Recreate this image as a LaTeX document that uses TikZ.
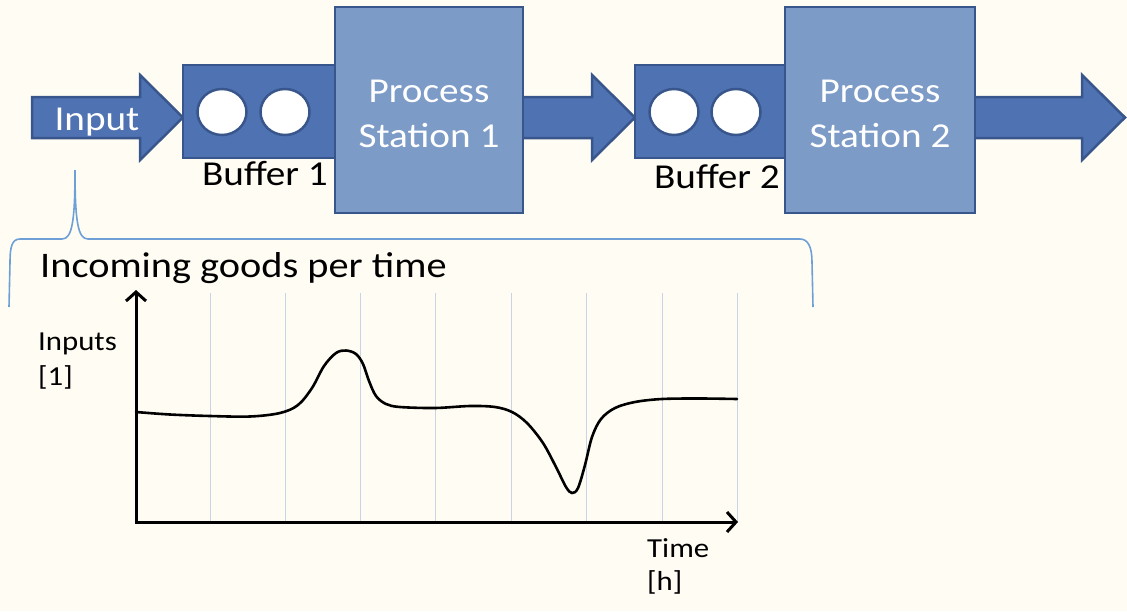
\documentclass[tikz,border=0pt]{standalone}
\usepackage{fontspec}
\setmainfont[FakeStretch=1.12]{Carlito}
\usetikzlibrary{arrows.meta,shapes.geometric,calc}

\definecolor{paper}{RGB}{255,253,243}
\definecolor{bufblue}{RGB}{79,114,178}
\definecolor{stationblue}{RGB}{125,155,199}
\definecolor{edgeblue}{RGB}{56,86,140}
\definecolor{bracecol}{RGB}{110,160,215}
\definecolor{gridcol}{RGB}{200,212,230}

\pgfdeclarelayer{paperlayer}
\pgfdeclarelayer{flowlayer}
\pgfsetlayers{paperlayer,flowlayer,main}

\tikzset{
  stationbox/.style={rectangle, draw=edgeblue, fill=stationblue, line width=2.5pt,
                     inner sep=0pt, outer sep=0pt},
  bufferbox/.style={rectangle, draw=edgeblue, fill=bufblue, line width=2.5pt,
                    inner sep=0pt, outer sep=0pt, minimum height=93pt},
  hole/.style={ellipse, draw=edgeblue, fill=white, line width=2.5pt,
               minimum width=49pt, minimum height=46pt, inner sep=0pt},
  flowshape/.style={draw=edgeblue, fill=bufblue, line width=2.5pt, line join=miter},
  wlabel/.style={text=white, font=\fontsize{35pt}{42pt}\selectfont, inner sep=0pt},
  blabel/.style={text=black, font=\fontsize{35pt}{42pt}\selectfont, inner sep=0pt},
  clabel/.style={text=black, font=\fontsize{27.5pt}{32pt}\selectfont, inner sep=0pt, anchor=base west},
  gridline/.style={draw=gridcol, line width=0.8pt},
  axisline/.style={draw=black, line width=3pt, line join=miter,
                   {Straight Barb[length=9pt,width=20pt]}-{Straight Barb[length=9pt,width=20pt]}},
  curveline/.style={draw=black, line width=2.6pt, line cap=round},
  bracket/.style={draw=bracecol, line width=1.6pt}
}

% block arrow along the flow line, from the x of #1 to the x of #2
\newcommand{\flowarrow}[2]{%
  \draw[flowshape] let \p1=(#1 |- flow), \p2=(#2 |- flow) in
    (\x1,\y1+20.5pt) -- (\x2-43pt,\y1+20.5pt) -- (\x2-43pt,\y1+42.5pt) -- (\x2,\y1)
    -- (\x2-43pt,\y1-42.5pt) -- (\x2-43pt,\y1-20.5pt) -- (\x1,\y1-20.5pt) -- cycle;}

\begin{document}
\begin{tikzpicture}[x=1pt, y=-1pt]
\useasboundingbox (0,0) rectangle (1127,611);
\begin{pgfonlayer}{paperlayer}
  \fill[paper] (0,0) rectangle (1127,611);
\end{pgfonlayer}

% ---- production line ----
\coordinate (flow) at (0,117.5);
\coordinate (instart) at (32,117.5);
\coordinate (outtip) at (1125,117.5);

\node[bufferbox, minimum width=162pt] (buf1) at (264,111.5) {};
\node[bufferbox, minimum width=160pt] (buf2) at (715,111.5) {};
\node[hole] (h11) at (222,112) {};
\node[hole] (h12) at (285,112) {};
\node[hole] (h21) at (674,112) {};
\node[hole] (h22) at (736,112) {};

\node[stationbox, minimum width=188pt, minimum height=206pt] (ps1) at (429,110) {};
\node[stationbox, minimum width=190pt, minimum height=206pt] (ps2) at (880,110) {};

\begin{pgfonlayer}{flowlayer}
  \flowarrow{instart}{buf1.west}
  \flowarrow{ps1.center}{buf2.west}
  \flowarrow{ps2.center}{outtip}
\end{pgfonlayer}

\node[wlabel, anchor=base] (intxt) at (97,130) {Input};
\node[wlabel, anchor=base] (ps1a) at (429,102) {Process};
\node[wlabel, anchor=base] (ps1b) at (429,147) {Station 1};
\node[wlabel, anchor=base] (ps2a) at (880,102) {Process};
\node[wlabel, anchor=base] (ps2b) at (880,147) {Station 2};
\node[blabel, anchor=base] (b1txt) at (265,185) {Buffer 1};
\node[blabel, anchor=base] (b2txt) at (717,188) {Buffer 2};

% ---- curly bracket under the input ----
\draw[bracket] (9,307) -- (10,262) .. controls (10,247) and (12,239) .. (20,239)
  -- (62,239) .. controls (72,239) and (75,222) .. (75,170)
  .. controls (75,222) and (78,239) .. (88,239)
  -- (800,239) .. controls (808,239) and (812,247) .. (812,262) -- (813,307);

\node[blabel, anchor=base west, font=\fontsize{36pt}{42pt}\selectfont] (title) at (40,277) {Incoming goods per time};

% ---- chart ----
\foreach \gx in {210,285,360,435,511,586,662,737}
  \draw[gridline] (\gx,293) -- (\gx,522);

\coordinate (orig) at (136,522);
\coordinate (ytop) at (136,290);
\coordinate (xend) at (738,522);
\draw[axisline] (ytop) -- (orig) -- (xend);

\draw[curveline] plot[smooth, tension=0.55] coordinates {
  (136,412) (170,414.5) (210,416) (250,416.5) (280,413) (298,405) (312,388)
  (324,366) (336,353) (346,350.5) (356,354) (363,364) (369,381) (376,396)
  (386,404) (400,407) (435,408) (470,406) (495,407) (512,412) (527,423)
  (543,443) (556,467) (566,487) (572,493) (578,488) (585,465) (592,437)
  (601,419) (615,408) (635,402) (662,399) (700,398.5) (737,399)};

\node[clabel] (ylab1) at (38,350) {Inputs};
\node[clabel] (ylab2) at (38,385) {[1]};
\node[clabel] (xlab1) at (647,557) {Time};
\node[clabel] (xlab2) at (647,590) {[h]};
\end{tikzpicture}
\end{document}
